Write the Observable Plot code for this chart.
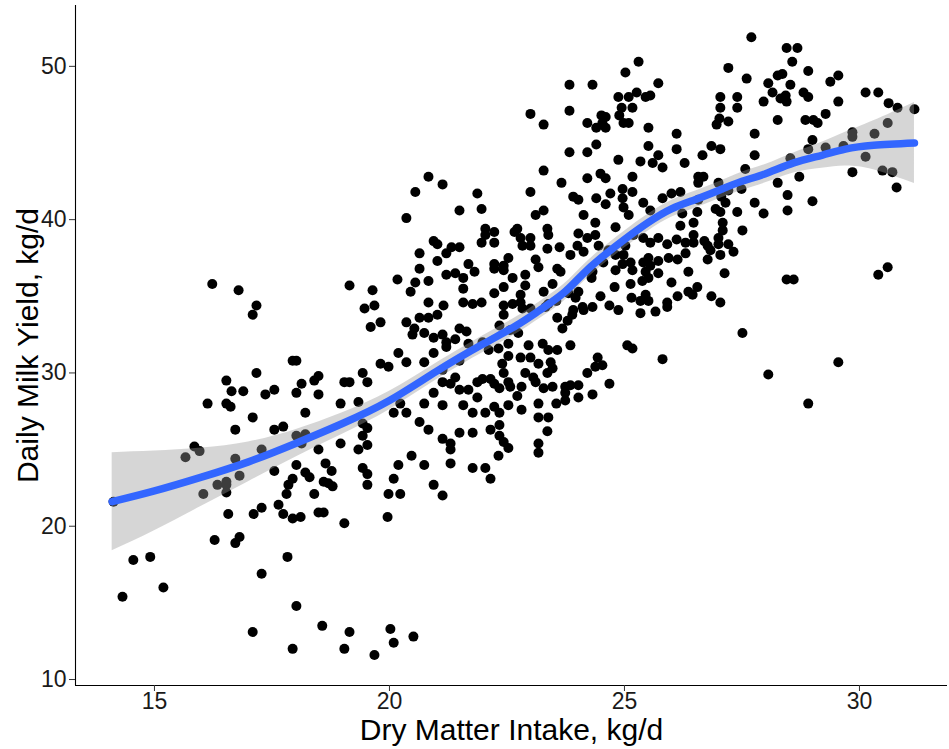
<!DOCTYPE html>
<html>
<head>
<meta charset="utf-8">
<script src="https://cdn.jsdelivr.net/npm/d3@7"></script>
<script src="https://cdn.jsdelivr.net/npm/@observablehq/plot@0.6"></script>
<style>
  html, body { margin: 0; padding: 0; background: #fff; }
</style>
</head>
<body>
<div id="chart"></div>
<script>
// Tick labels
const xTicks = [15, 20, 25, 30];
const yTicks = [10, 20, 30, 40, 50];
const xTitle = "Dry Matter Intake, kg/d";
const yTitle = "Daily Milk Yield, kg/d";

// Observations [DMI, milk] grouped by region of the plot
const ptsLowLeft = [
  [14.13,21.6],[14.55,17.8],[14.91,18.0],[14.32,15.4],[15.19,16.0],[16.28,19.1],[16.72,18.9],[16.81,19.3],
  [17.28,16.9],[17.83,18.0],[18.02,14.8],[17.09,13.1],[17.94,12.0],[18.57,13.5],[19.15,13.1],[19.04,12.0],
  [19.68,11.6],[19.04,20.2],[16.57,20.8],[17.11,20.8],[17.28,21.2],[17.64,21.4],[17.74,20.8],[17.94,20.5],
  [18.11,20.6],[18.49,20.9],[18.60,20.9],[17.55,23.6],[18.02,24.0],[18.21,23.5],[18.30,23.2],[17.94,23.1],
  [17.85,22.7],[17.81,22.1],[18.40,22.1],[18.64,24.1],[18.77,23.6],[18.60,22.9],[18.70,22.8],[18.79,22.6],
  [19.43,23.8],[19.53,23.4],[19.53,22.7],[16.53,22.2],[16.53,22.7],[16.53,22.9],[16.34,22.7],[16.04,22.1],
  [16.81,23.3]
];
const ptsUpLeft = [
  [16.23,35.8],[16.79,35.4],[17.17,34.4],[17.09,33.8],[19.15,35.7],[19.64,35.4],[19.47,34.2],[19.68,34.4],
  [19.60,33.0],[17.94,30.8],[18.02,30.8],[17.17,30.0],[16.53,29.5],[16.64,28.8],[16.89,28.8],[16.13,28.0],
  [16.53,28.0],[16.62,27.8],[17.36,28.6],[17.55,28.9],[18.02,28.7],[18.13,29.3],[18.40,29.5],[18.49,29.8],
  [18.49,28.6],[19.04,29.4],[19.15,29.4],[19.43,30.0],[19.53,29.4],[18.96,28.0],[19.34,28.1],[17.09,27.1],
  [18.21,27.4],[16.72,26.3],[17.55,26.3],[17.74,26.5],[18.02,25.9],[18.21,26.0],[18.96,25.4],[19.43,26.7],
  [19.53,26.4],[19.43,25.9],[19.53,25.3],[19.34,25.0],[18.49,25.0],[17.28,25.0],[15.85,25.2],[15.96,24.9],
  [15.66,24.5],[16.72,24.4],[18.13,25.4]
];
const ptsMidA = [
  [20.83,42.8],[21.13,42.3],[20.55,41.8],[21.87,41.7],[21.49,40.6],[21.96,40.7],[20.36,40.1],[22.04,39.4],
  [22.23,39.2],[22.04,39.0],[22.66,39.2],[21.96,38.5],[22.23,38.5],[20.94,38.6],[21.02,38.4],[21.32,38.2],
  [21.49,38.2],[21.21,37.8],[20.64,37.8],[21.02,37.3],[21.68,37.1],[21.81,36.6],[22.23,37.1],[22.23,36.8],
  [22.43,37.0],[22.53,37.5],[22.43,36.7],[20.64,36.8],[21.21,36.4],[21.40,36.5],[21.57,36.2],[20.17,36.1],
  [20.55,35.9],[20.83,36.0],[20.45,35.3],[21.57,35.5],[22.23,35.2],[22.43,35.6],[22.62,36.2],[20.83,34.6],
  [21.15,34.4],[21.57,34.6],[21.77,34.5],[21.96,34.6],[22.43,34.4],[22.62,34.5]
];
const ptsMidB = [
  [19.81,33.3],[20.36,33.3],[20.64,33.6],[20.83,33.6],[21.02,33.8],[20.53,32.9],[20.49,32.5],[20.74,32.6],
  [20.94,32.3],[21.13,32.5],[21.21,32.0],[21.40,32.2],[21.49,32.9],[21.64,32.7],[22.43,33.8],[22.34,33.1],
  [21.98,32.0],[21.68,31.9],[22.11,31.5],[22.32,31.6],[22.53,31.9],[22.57,32.8],[20.19,31.3],[19.81,30.6],
  [19.98,30.4],[20.36,30.7],[20.74,30.7],[20.94,31.3],[21.21,31.7],[21.13,30.2],[21.49,30.8],[22.40,30.6],
  [22.53,31.1],[22.43,30.0],[21.13,29.4],[21.30,29.3],[21.40,29.7],[21.49,28.9],[21.68,28.9],[21.87,29.4],
  [21.98,29.6],[22.15,29.6],[22.23,29.3],[22.34,29.0],[22.53,29.4],[22.57,29.1],[21.87,28.4],[21.57,27.9],
  [21.77,27.4],[22.04,27.4],[22.23,27.8],[22.34,27.4],[22.53,27.9],[20.94,28.7],[20.74,28.0],[21.13,27.9],
  [20.23,28.0],[20.09,27.4],[20.36,27.4],[20.64,26.8],[20.83,26.3],[21.13,25.7],[21.30,25.4],[21.30,25.0],
  [21.49,26.1],[21.77,26.1],[22.15,26.3],[22.34,26.6],[22.34,25.9],[22.43,25.5],[22.53,25.1],[22.32,24.6],
  [20.47,24.6],[20.19,24.0],[20.74,24.0],[21.30,24.1],[21.77,23.8],[22.04,23.8],
  [20.09,23.1],[19.98,22.1],[20.23,22.1],[19.96,20.6],[20.94,22.7],[21.13,22.0],[22.15,23.1],
  [20.02,13.3],[20.09,12.4],[20.51,12.8]
];
const ptsCentreTop = [
  [23.83,48.8],[24.32,48.8],[23.00,46.9],[23.28,46.2],[23.83,47.1],[24.21,46.3],[24.51,46.8],[24.60,46.7],
  [24.53,46.3],[24.40,46.0],[24.60,46.0],[24.87,48.0],[25.09,48.0],[25.26,48.3],[25.45,48.0],[25.55,48.1],
  [25.17,47.3],[24.94,47.3],[24.89,46.8],[24.98,46.3],[25.09,46.3],[25.51,46.0],[23.83,44.4],[24.21,44.4],
  [24.40,44.9],[24.87,43.9],[25.34,43.8],[25.51,44.8],[25.60,43.7],[23.28,43.2],[23.66,42.4],[23.00,41.8],
  [24.21,42.7],[24.49,43.0],[24.60,42.7],[25.17,42.8],[24.96,42.0],[23.91,41.5],[24.02,41.3],[24.40,41.4],
  [24.70,41.7],[24.60,41.0],[24.96,41.4],[25.17,41.8],[24.98,40.8],[25.40,41.1],[23.11,40.3],[23.28,40.6],
  [24.13,40.3],[24.38,39.8],[25.09,40.3],[25.55,40.6],[22.72,39.4],[23.36,39.4],[24.81,39.5],
  [25.30,50.3],[25.02,49.6]
];
const ptsCentreMid = [
  [22.79,38.8],[23.00,38.8],[22.83,38.3],[23.00,38.3],[23.38,39.0],[23.36,38.1],[23.62,38.2],[23.85,37.7],
  [24.00,38.3],[24.02,39.1],[24.21,38.8],[24.38,39.0],[24.13,37.9],[24.45,38.3],[24.66,38.0],[24.81,37.7],
  [24.98,37.7],[25.13,37.2],[25.02,38.3],[25.19,39.0],[25.40,38.8],[25.55,38.5],[25.51,37.5],[25.40,37.2],
  [25.55,37.0],[23.11,37.4],[23.17,36.9],[22.89,36.4],[22.89,35.7],[23.57,36.8],[23.64,36.6],[24.32,36.6],
  [24.30,36.2],[24.55,37.2],[24.81,36.7],[24.96,37.1],[25.17,36.7],[25.45,36.6],[25.13,35.8],[25.38,36.0],
  [25.51,36.2],[24.79,35.6],[24.49,35.0],[24.02,35.3],[23.96,34.9],[23.81,35.2],[23.47,35.8],[23.28,35.3],
  [22.79,35.1],[22.79,34.6],[22.83,34.2],[23.00,34.2],[23.32,34.3],[23.38,34.5],[23.55,34.7],[23.91,34.1],
  [24.11,34.3],[24.13,34.1],[24.32,34.3],[24.68,34.4],[24.87,34.1],[25.15,34.9],[25.34,34.7],[25.45,35.1],
  [25.51,34.7],[25.34,33.9],[23.57,33.6],[23.79,33.4],[23.89,33.8],[23.68,32.9],[22.74,32.6],[22.96,31.8],
  [23.26,31.9],[23.00,31.0],[23.38,31.5],[23.57,31.5],[23.85,31.8],[22.79,31.0],[23.17,30.6],[23.43,30.7],
  [23.06,29.7],[22.89,30.0],[23.36,30.0],[23.47,30.3],[24.43,31.0],[24.38,30.4],[24.21,30.0],[24.53,30.5],
  [25.06,31.8],[25.17,31.6]
];
const ptsCentreLow = [
  [22.81,29.1],[23.11,29.4],[23.28,29.0],[23.47,29.1],[23.74,29.1],[23.85,29.2],[24.02,29.2],[23.74,28.7],
  [23.74,28.2],[24.02,28.4],[24.32,28.6],[24.68,29.3],[22.72,28.5],[22.81,27.6],[23.17,28.0],[23.55,28.0],
  [23.17,27.1],[23.38,27.1],[23.36,26.2],[23.17,25.4],[23.17,24.8]
];
const ptsRightTop = [
  [27.70,51.9],[28.45,51.2],[28.57,50.3],[27.21,49.9],[25.72,48.9],[27.60,49.2],[28.06,48.9],[28.26,49.4],
  [28.36,49.5],[28.53,48.8],[28.15,48.3],[28.32,47.9],[28.43,48.1],[28.45,47.7],[27.96,47.7],[27.04,48.0],
  [27.04,47.3],[27.40,48.0],[27.40,47.3],[28.26,46.5],[27.02,46.6],[26.96,46.2],[27.21,46.4],[27.77,45.6],
  [26.11,45.6],[26.11,44.6],[25.72,44.2],[25.81,43.4],[26.28,43.7],[26.66,44.2],[26.85,44.8],[27.04,44.6],
  [27.77,44.2],[28.53,44.0],[27.57,43.3],[28.26,42.4],[28.47,41.6],[26.57,42.8],[26.68,42.8],[26.57,42.4],
  [27.00,42.4],[27.21,41.9],[27.49,42.0],[27.06,41.5],[27.15,41.1],[26.19,41.8],[26.00,41.7],[25.81,41.4],
  [27.77,41.1],[27.96,40.4],[28.47,40.6],[26.57,41.3],[26.23,40.4],[26.55,40.5],[26.94,40.7],[27.04,40.5],
  [27.40,40.5]
];
const ptsRightMid = [
  [26.19,39.6],[26.47,39.8],[27.09,39.8],[27.09,39.3],[27.51,39.3],[25.72,38.8],[25.91,38.4],[26.11,38.7],
  [26.30,38.5],[26.47,39.0],[26.47,38.5],[26.70,38.6],[26.77,38.3],[27.00,38.8],[27.00,38.4],[27.21,38.4],
  [27.32,37.9],[27.04,37.7],[26.83,38.0],[26.77,37.4],[26.30,37.8],[25.94,37.5],[26.13,37.4],[25.72,37.3],
  [25.72,36.5],[26.36,36.6],[27.13,36.5],[26.00,35.9],[26.55,35.6],[26.36,35.3],[26.13,35.0],[26.45,35.1],
  [26.85,35.0],[27.04,34.6],[25.91,34.6],[25.91,34.3],[25.66,34.0],[28.45,36.1],[28.60,36.1],[27.51,32.6],
  [25.81,30.9],[28.06,29.9]
];
const ptsFarRight = [
  [28.68,51.2],[28.91,49.7],[29.55,49.4],[29.38,49.0],[28.81,48.3],[28.91,48.0],[30.13,48.3],[30.40,48.3],
  [30.62,47.6],[30.81,47.3],[31.17,47.2],[29.55,47.7],[29.28,46.9],[28.85,46.5],[29.02,46.5],[29.11,46.3],
  [29.85,45.7],[29.85,45.4],[30.32,45.6],[30.60,46.3],[29.00,45.2],[28.91,44.6],[29.28,44.7],[29.66,44.8],
  [30.13,44.1],[28.72,42.8],[29.85,43.1],[30.49,43.2],[30.70,43.1],[30.79,42.1],[29.00,41.2],
  [30.40,36.4],[30.60,36.9],[29.55,30.7],[28.91,28.0]
];

// Loess fit with its 95% band
const fitX  = [14.1, 15, 16, 17, 18, 19, 20, 21, 22, 22.7, 23.2, 23.7, 24.1, 24.5, 25, 25.5, 26, 26.5, 27, 27.5, 28, 28.6, 29.2, 29.7, 30.3, 31.17];
const fitY  = [21.6, 22.3, 23.2, 24.2, 25.4, 26.7, 28.2, 30.1, 31.9, 33.1, 34.1, 35.2, 36.4, 37.5, 38.7, 39.8, 40.7, 41.3, 41.9, 42.5, 43.0, 43.7, 44.2, 44.6, 44.85, 45.0];
const fitLo = [18.4, 19.7, 21.3, 22.9, 24.5, 26.0, 27.6, 29.55, 31.35, 32.55, 33.55, 34.65, 35.85, 36.95, 38.15, 39.25, 40.15, 40.75, 41.35, 41.9, 42.4, 43.05, 43.35, 43.5, 43.25, 42.35];
const fitHi = [24.8, 24.9, 25.1, 25.5, 26.3, 27.4, 28.8, 30.65, 32.45, 33.65, 34.65, 35.75, 36.95, 38.05, 39.25, 40.35, 41.25, 41.85, 42.45, 43.1, 43.6, 44.35, 45.05, 45.7, 46.45, 47.65];

const points = [...ptsLowLeft, ...ptsUpLeft, ...ptsMidA, ...ptsMidB, ...ptsCentreTop, ...ptsCentreMid,
  ...ptsCentreLow, ...ptsRightTop, ...ptsRightMid, ...ptsFarRight].map(([x, y]) => ({x, y}));
const fit = fitX.map((x, i) => ({x, y: fitY[i], lo: fitLo[i], hi: fitHi[i]}));

const xDomain = [13.32, 31.873];
const yDomain = [9.61, 53.97];

const chart = Plot.plot({
  width: 949,
  height: 749,
  marginLeft: 75,
  marginRight: 2,
  marginTop: 5,
  marginBottom: 64,
  style: {fontFamily: "'Liberation Sans', Arial, sans-serif", background: "#fff", color: "#000"},
  x: {domain: xDomain, label: null},
  y: {domain: yDomain, label: null},
  marks: [
    Plot.dot(points, {x: "x", y: "y", r: 5, fill: "#000", stroke: "none"}),
    Plot.areaY(fit, {x: "x", y1: "lo", y2: "hi", fill: "#999999", fillOpacity: 0.4, curve: "natural"}),
    Plot.line(fit, {x: "x", y: "y", stroke: "#3366FF", strokeWidth: 7.5, curve: "natural"}),
    Plot.ruleX([xDomain[0]], {stroke: "#000", strokeWidth: 1.1}),
    Plot.ruleY([yDomain[0]], {stroke: "#000", strokeWidth: 1.1}),
    Plot.axisX({ticks: xTicks, tickSize: 6, tickPadding: 1, fontSize: 23, stroke: "#333", fill: "#1a1a1a", label: null}),
    Plot.axisY({ticks: yTicks, tickSize: 6, tickPadding: 3, fontSize: 23, stroke: "#333", fill: "#1a1a1a", label: null}),
    Plot.text([xTitle], {frameAnchor: "bottom", dy: 33, lineAnchor: "top", fontSize: 30, fill: "#000", textAnchor: "middle"}),
    Plot.text([yTitle], {frameAnchor: "left", dx: -47, rotate: -90, fontSize: 30, fill: "#000", textAnchor: "middle"})
  ]
});
document.getElementById("chart").appendChild(chart);
</script>
</body>
</html>
